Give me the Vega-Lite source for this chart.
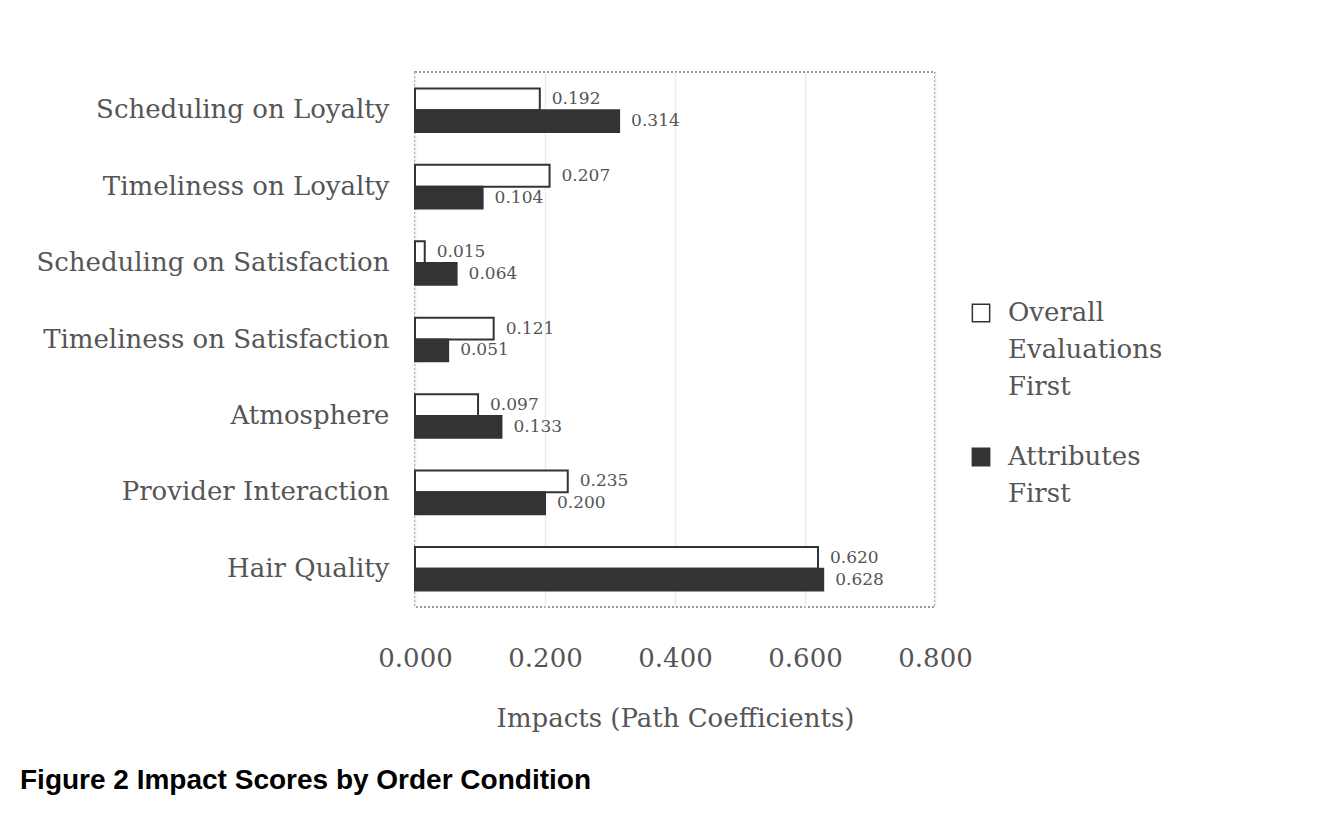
{
  "$schema": "https://vega.github.io/schema/vega-lite/v6.json",
  "width": 520,
  "height": 535,
  "autosize": {"type": "none"},
  "padding": {"left": 415, "top": 72, "right": 384, "bottom": 215},
  "background": "white",
  "config": {
    "view": {"stroke": "#777", "strokeDash": [2, 2], "strokeWidth": 1.5},
    "font": "DejaVu Serif",
    "style": {"guide-label": {"lineHeight": 37}}
  },
  "title": {
    "text": "Figure 2 Impact Scores by Order Condition",
    "orient": "bottom",
    "anchor": "start",
    "frame": "group",
    "dx": -395,
    "offset": 36,
    "font": "Liberation Sans",
    "fontWeight": "bold",
    "fontSize": 28,
    "color": "#000"
  },
  "data": {
    "values": [
      {"item": "Scheduling on Loyalty", "condition": "Overall Evaluations First", "value": 0.192},
      {"item": "Scheduling on Loyalty", "condition": "Attributes First", "value": 0.314},
      {"item": "Timeliness on Loyalty", "condition": "Overall Evaluations First", "value": 0.207},
      {"item": "Timeliness on Loyalty", "condition": "Attributes First", "value": 0.104},
      {"item": "Scheduling on Satisfaction", "condition": "Overall Evaluations First", "value": 0.015},
      {"item": "Scheduling on Satisfaction", "condition": "Attributes First", "value": 0.064},
      {"item": "Timeliness on Satisfaction", "condition": "Overall Evaluations First", "value": 0.121},
      {"item": "Timeliness on Satisfaction", "condition": "Attributes First", "value": 0.051},
      {"item": "Atmosphere", "condition": "Overall Evaluations First", "value": 0.097},
      {"item": "Atmosphere", "condition": "Attributes First", "value": 0.133},
      {"item": "Provider Interaction", "condition": "Overall Evaluations First", "value": 0.235},
      {"item": "Provider Interaction", "condition": "Attributes First", "value": 0.200},
      {"item": "Hair Quality", "condition": "Overall Evaluations First", "value": 0.620},
      {"item": "Hair Quality", "condition": "Attributes First", "value": 0.628}
    ]
  },
  "encoding": {
    "y": {
      "field": "item",
      "type": "nominal",
      "sort": null,
      "scale": {"paddingInner": 0.43, "paddingOuter": 0.215},
      "axis": {
        "title": null,
        "domain": false,
        "ticks": false,
        "labelFont": "DejaVu Serif",
        "labelFontSize": 26,
        "labelColor": "#555",
        "labelPadding": 26,
        "labelLimit": 500
      }
    },
    "yOffset": {
      "field": "condition",
      "type": "nominal",
      "sort": ["Overall Evaluations First", "Attributes First"],
      "scale": {"paddingInner": 0, "paddingOuter": 0}
    },
    "x": {
      "field": "value",
      "type": "quantitative",
      "scale": {"domain": [0, 0.8], "nice": false},
      "axis": {
        "values": [0, 0.2, 0.4, 0.6, 0.8],
        "format": ".3f",
        "labelFlush": false,
        "title": "Impacts (Path Coefficients)",
        "titleFont": "DejaVu Serif",
        "titleFontWeight": "normal",
        "titleFontSize": 26,
        "titleColor": "#555",
        "titlePadding": 34,
        "domain": false,
        "ticks": false,
        "labelFont": "DejaVu Serif",
        "labelFontSize": 26,
        "labelColor": "#555",
        "labelPadding": 38,
        "grid": true,
        "gridColor": "#ececec",
        "gridWidth": 1.5
      }
    }
  },
  "layer": [
    {
      "mark": {"type": "bar", "stroke": "#333", "strokeWidth": 2},
      "encoding": {
        "fill": {
          "field": "condition",
          "type": "nominal",
          "scale": {"domain": ["Overall Evaluations First", "Attributes First"], "range": ["#ffffff", "#333333"]},
          "legend": {
            "title": null,
            "orient": "none",
            "legendX": 553,
            "legendY": 228,
            "symbolType": "square",
            "symbolSize": 300,
            "symbolStrokeColor": "#333",
            "symbolStrokeWidth": 1.5,
            "labelFont": "DejaVu Serif",
            "labelFontSize": 26,
            "labelColor": "#555",
            "labelOffset": 14,
            "labelExpr": "split(datum.label, ' ')",
            "labelLimit": 300,
            "rowPadding": 44
          }
        }
      }
    },
    {
      "mark": {"type": "text", "align": "left", "baseline": "middle", "dx": 12, "fontSize": 17, "font": "DejaVu Serif", "color": "#555"},
      "encoding": {
        "text": {"field": "value", "type": "quantitative", "format": ".3f"}
      }
    }
  ]
}
